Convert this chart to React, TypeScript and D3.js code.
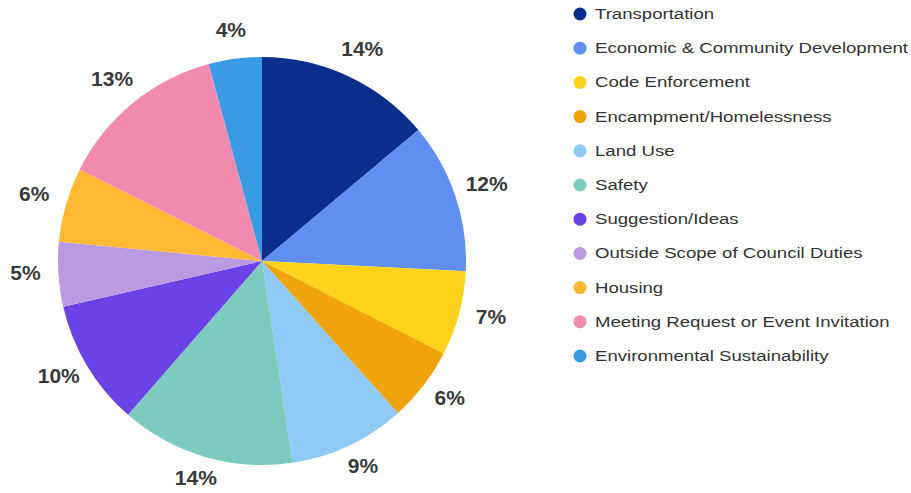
import React from "react";
import * as d3 from "d3";

const categories = [
  "Transportation",
  "Economic & Community Development",
  "Code Enforcement",
  "Encampment/Homelessness",
  "Land Use",
  "Safety",
  "Suggestion/Ideas",
  "Outside Scope of Council Duties",
  "Housing",
  "Meeting Request or Event Invitation",
  "Environmental Sustainability",
];
const values = [13.9, 11.9, 6.7, 5.9, 9.2, 13.8, 10.0, 5.1, 5.9, 13.4, 4.2];
const colors = [
  "#0B2E8C",
  "#5F8FF0",
  "#FFD21C",
  "#F0A40C",
  "#8FC9F6",
  "#7DCBBF",
  "#6A42E6",
  "#BC9AE2",
  "#FFB934",
  "#F08BAF",
  "#3A9BE5",
];

const W = 911;
const H = 493;
const cx = 262;
const cy = 261;
const R = 204;
const labelRx = 237;
const labelRy = 230;
const labelDy = -4;

export default function App() {
  const data = categories.map((c, i) => ({ name: c, value: values[i], color: colors[i] }));
  const pie = d3.pie<any>().value((d) => d.value).sort(null);
  const arcs = pie(data);
  const total = d3.sum(values);
  const arc = d3.arc<any>().innerRadius(0).outerRadius(R);
  const legendY = d3.scaleLinear().domain([0, categories.length - 1]).range([14, 356]);

  return (
    <svg
      width={W}
      height={H}
      style={{ position: "absolute", left: 0, top: 0, background: "#fff" }}
    >
      <g transform={`translate(${cx},${cy})`}>
        {arcs.map((a, i) => (
          <path key={i} d={arc(a) || ""} fill={a.data.color} />
        ))}
        {arcs.map((a, i) => {
          const mid = (a.startAngle + a.endAngle) / 2;
          const x = labelRx * Math.sin(mid);
          const y = -labelRy * Math.cos(mid) + labelDy;
          return (
            <text
              key={"l" + i}
              x={x}
              y={y}
              textAnchor="middle"
              dominantBaseline="central"
              fontFamily="'Liberation Sans', Arial, sans-serif"
              fontWeight="bold"
              fontSize={21}
              fill="#3a3a3a"
            >
              {Math.round((a.data.value / total) * 100)}%
            </text>
          );
        })}
      </g>
      <g>
        {categories.map((c, i) => (
          <g key={c} transform={`translate(580,${legendY(i)})`}>
            <circle r={6.5} fill={colors[i]} />
            <text
              transform="translate(15,0) scale(1.2,1)"
              dominantBaseline="central"
              fontFamily="'Liberation Sans', Arial, sans-serif"
              fontSize={15.5}
              fill="#333"
            >
              {c}
            </text>
          </g>
        ))}
      </g>
    </svg>
  );
}
